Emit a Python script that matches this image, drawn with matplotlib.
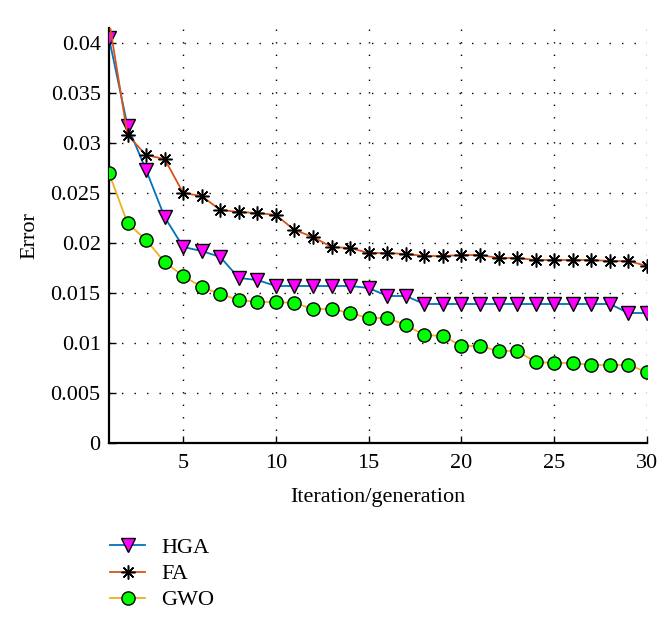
import numpy as np
import matplotlib
matplotlib.use("Agg")
import matplotlib.pyplot as plt
from matplotlib.ticker import FuncFormatter

iters = list(range(1, 31))
hga = [0.0405, 0.0317, 0.0273, 0.0226, 0.0196, 0.0192, 0.0186, 0.0165, 0.0163, 0.0157,
       0.0157, 0.0157, 0.0157, 0.0157, 0.0155, 0.0147, 0.0147, 0.0139, 0.0139, 0.0139,
       0.0139, 0.0139, 0.0139, 0.0139, 0.0139, 0.0139, 0.0139, 0.0139, 0.0130, 0.0130]
fa = [0.0423, 0.0308, 0.0288, 0.0284, 0.0250, 0.0247, 0.0233, 0.0231, 0.0230, 0.0228,
      0.0213, 0.0206, 0.0196, 0.0195, 0.0190, 0.0190, 0.0189, 0.0187, 0.0187, 0.0188,
      0.0188, 0.0185, 0.0185, 0.0183, 0.0183, 0.0183, 0.0183, 0.0182, 0.0182, 0.0177]
gwo = [0.0270, 0.0220, 0.0203, 0.0181, 0.0167, 0.0156, 0.0149, 0.0143, 0.0141, 0.0141,
       0.0140, 0.0134, 0.0134, 0.0130, 0.0125, 0.0125, 0.0118, 0.0108, 0.0107, 0.0097,
       0.0097, 0.0092, 0.0092, 0.0081, 0.0080, 0.0080, 0.0078, 0.0078, 0.0078, 0.0071]
xticks = [5, 10, 15, 20, 25, 30]
yticks = [0, 0.005, 0.01, 0.015, 0.02, 0.025, 0.03, 0.035, 0.04]

plt.rcParams["font.family"] = ["Liberation Serif", "DejaVu Serif"]
plt.rcParams["font.size"] = 16

fig = plt.figure(figsize=(6.71, 6.2), dpi=100)
ax = fig.add_axes([0.1624, 0.2855, 0.8018, 0.6693])

ax.plot(iters, hga, color="#0072BD", lw=1.3, marker="v", ms=10,
        mfc="#FF00FF", mec="black", mew=1.0, label="HGA", zorder=3)
ax.plot(iters, fa, color="#D95319", lw=1.3, marker=(8, 2, 0), ms=10,
        mec="black", mew=1.1, label="FA", zorder=3)
ax.plot(iters, gwo, color="#EDB120", lw=1.3, marker="o", ms=9.5,
        mfc="#00FF00", mec="black", mew=1.0, label="GWO", zorder=3)

ax.set_xlim(1, 30)
ax.set_ylim(0, 0.0415)
ax.set_xticks(xticks)
ax.set_yticks(yticks)
ax.yaxis.set_major_formatter(FuncFormatter(lambda v, p: "0" if v == 0 else f"{v:g}"))
ax.tick_params(direction="in", length=5, width=1, color="black")
ax.tick_params(axis="x", pad=8)
ax.tick_params(axis="y", pad=6)
ax.grid(True, color="black", ls=(0, (1, 8)), lw=1.0)
ax.spines["top"].set_visible(False)
ax.spines["right"].set_visible(False)
for s in ("left", "bottom"):
    ax.spines[s].set_linewidth(1.6)
ax.set_xlabel("Iteration/generation", labelpad=11)
ax.set_ylabel("Error", labelpad=8)

fig.legend(loc="upper left", bbox_to_anchor=(0.134, 0.165), frameon=False,
           handlelength=1.6, labelspacing=0.25, handletextpad=0.7)

fig.savefig("out.png", dpi=100)
